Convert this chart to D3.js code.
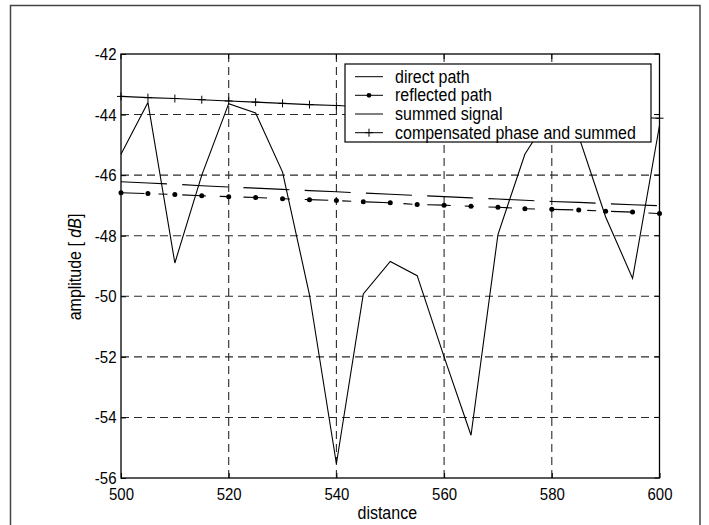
<!DOCTYPE html>
<html>
<head>
<meta charset="utf-8">
<script src="https://cdn.jsdelivr.net/npm/d3@7"></script>
<style>
  body { margin: 0; background: #fff; }
  svg text { font-family: "Liberation Sans", Arial, sans-serif; fill: #000; }
</style>
</head>
<body>
<svg id="chart" width="709" height="525"></svg>
<script>
// distance samples (every 5 units)
const distance = [500, 505, 510, 515, 520, 525, 530, 535, 540, 545, 550,
                  555, 560, 565, 570, 575, 580, 585, 590, 595, 600];

// amplitudes in dB
const directPath = [-46.22, -46.26, -46.30, -46.35, -46.39, -46.43, -46.47, -46.51, -46.55, -46.59, -46.63,
                    -46.67, -46.71, -46.75, -46.79, -46.83, -46.87, -46.90, -46.94, -46.98, -47.01];
const reflectedPath = [-46.58, -46.61, -46.64, -46.68, -46.71, -46.74, -46.78, -46.81, -46.84, -46.88, -46.91,
                       -46.97, -46.99, -47.03, -47.06, -47.11, -47.13, -47.15, -47.19, -47.22, -47.27];
const summedSignal = [-45.31, -43.60, -48.90, -46.00, -43.64, -43.95, -45.90, -49.95, -55.53, -49.92, -48.85,
                      -49.32, -52.00, -54.59, -47.96, -45.31, -43.91, -44.72, -47.38, -49.41, -44.36];
const compensated = [-43.40, -43.44, -43.47, -43.51, -43.55, -43.59, -43.63, -43.67, -43.70, -43.74, -43.78,
                     -43.81, -43.85, -43.88, -43.92, -43.95, -43.98, -44.02, -44.05, -44.09, -44.12];

const xTicks = [500, 520, 540, 560, 580, 600];
const yTicks = [-42, -44, -46, -48, -50, -52, -54, -56];
const legendLabels = ["direct path", "reflected path", "summed signal", "compensated phase and summed"];

const svg = d3.select("#chart");
const mLeft = 121, mRight = 659.5, mTop = 54, mBottom = 478;
const stretch = 1.12; // text in the picture is a bit taller than wide

const x = d3.scaleLinear().domain([500, 600]).range([mLeft, mRight]);
const y = d3.scaleLinear().domain([-56, -42]).range([mBottom, mTop]);

// outer figure frame
svg.append("rect")
  .attr("x", 10.5).attr("y", 5.5).attr("width", 689.5).attr("height", 600)
  .attr("fill", "none").attr("stroke", "#444").attr("stroke-width", 1.5);

// grid (dashed)
const grid = svg.append("g").attr("stroke", "#2a2a2a").attr("stroke-width", 1.1)
  .attr("stroke-dasharray", "8,5");
grid.selectAll("line.gx").data(xTicks.slice(1, -1)).join("line").attr("class", "gx")
  .attr("x1", d => x(d)).attr("x2", d => x(d)).attr("y1", mTop).attr("y2", mBottom);
grid.selectAll("line.gy").data(yTicks.slice(1, -1)).join("line").attr("class", "gy")
  .attr("x1", mLeft).attr("x2", mRight).attr("y1", d => y(d)).attr("y2", d => y(d));

// axes with inward ticks, labels
const xAxis = d3.axisBottom(x).tickValues(xTicks).tickSize(-5).tickPadding(9).tickFormat(d3.format("d"));
const yAxis = d3.axisLeft(y).tickValues(yTicks).tickSize(-5).tickPadding(9).tickFormat(d => String(d));

const gx = svg.append("g").attr("transform", `translate(0,${mBottom})`).call(xAxis);
const gy = svg.append("g").attr("transform", `translate(${mLeft},0)`).call(yAxis);
[gx, gy].forEach(g => {
  g.select(".domain").remove();
  g.selectAll("line").attr("stroke", "#000");
  g.selectAll("text").style("font-size", "15px")
    .style("font-family", "'Liberation Sans', Arial, sans-serif");
});
gx.selectAll("text").attr("y", 0).attr("dy", 0)
  .attr("transform", `translate(0,22) scale(1,${stretch})`);
gy.selectAll("text").attr("x", -4.5).attr("dy", 0)
  .attr("transform", `translate(0,5.5) scale(1,${stretch})`);

// top/right inward ticks
svg.append("g").selectAll("line").data(xTicks).join("line")
  .attr("x1", d => x(d)).attr("x2", d => x(d)).attr("y1", mTop).attr("y2", mTop + 5)
  .attr("stroke", "#000");
svg.append("g").selectAll("line").data(yTicks).join("line")
  .attr("x1", mRight).attr("x2", mRight - 5).attr("y1", d => y(d)).attr("y2", d => y(d))
  .attr("stroke", "#000");

// axes box
svg.append("rect")
  .attr("x", mLeft).attr("y", mTop).attr("width", mRight - mLeft).attr("height", mBottom - mTop)
  .attr("fill", "none").attr("stroke", "#000").attr("stroke-width", 1.3);

// axis titles
svg.append("text")
  .attr("transform", `translate(${(mLeft + mRight) / 2 - 3},519) scale(1,${stretch})`)
  .attr("text-anchor", "middle").style("font-size", "16px").text("distance");
const yl = svg.append("text")
  .attr("transform", `translate(81,${(mTop + mBottom) / 2 + 1}) rotate(-90) scale(1,${stretch})`)
  .attr("text-anchor", "middle").style("font-size", "16px");
yl.append("tspan").text("amplitude [ ");
yl.append("tspan").style("font-style", "italic").text("dB");
yl.append("tspan").text("]");

// series
const line = d3.line().x(d => x(d[0])).y(d => y(d[1]));
const pts = vals => distance.map((d, i) => [d, vals[i]]);

const plot = svg.append("g").attr("fill", "none").attr("stroke", "#000").attr("stroke-width", 1.1);
plot.append("path").attr("d", line(pts(directPath))).attr("stroke-dasharray", "46,15.3");
plot.append("path").attr("d", line(pts(reflectedPath))).attr("stroke-dasharray", "23.5,14,9,14.8");
plot.append("path").attr("d", line(pts(summedSignal)));
plot.append("path").attr("d", line(pts(compensated)));

svg.append("g").selectAll("circle").data(pts(reflectedPath)).join("circle")
  .attr("cx", d => x(d[0])).attr("cy", d => y(d[1])).attr("r", 2.5).attr("fill", "#000");

const plus = (cx, cy, s) => `M${cx - s},${cy}H${cx + s}M${cx},${cy - s}V${cy + s}`;
svg.append("g").selectAll("path").data(pts(compensated)).join("path")
  .attr("d", d => plus(x(d[0]), y(d[1]), 4)).attr("stroke", "#000").attr("fill", "none");

// legend
const lg = svg.append("g");
lg.append("rect").attr("x", 345).attr("y", 64).attr("width", 306).attr("height", 78)
  .attr("fill", "#fff").attr("stroke", "#000").attr("stroke-width", 1.2);
const rowY = [76.7, 95.3, 114, 132.7];
legendLabels.forEach((lab, i) => {
  const yy = rowY[i];
  lg.append("line").attr("x1", 355).attr("x2", 383).attr("y1", yy).attr("y2", yy).attr("stroke", "#000");
  if (i === 1) lg.append("circle").attr("cx", 369).attr("cy", yy).attr("r", 2.4).attr("fill", "#000");
  if (i === 3) lg.append("path").attr("d", plus(369, yy, 4)).attr("stroke", "#000");
  lg.append("text").attr("transform", `translate(395,${yy + 6}) scale(1,${stretch})`)
    .style("font-size", "16px").text(lab);
});
</script>
</body>
</html>
